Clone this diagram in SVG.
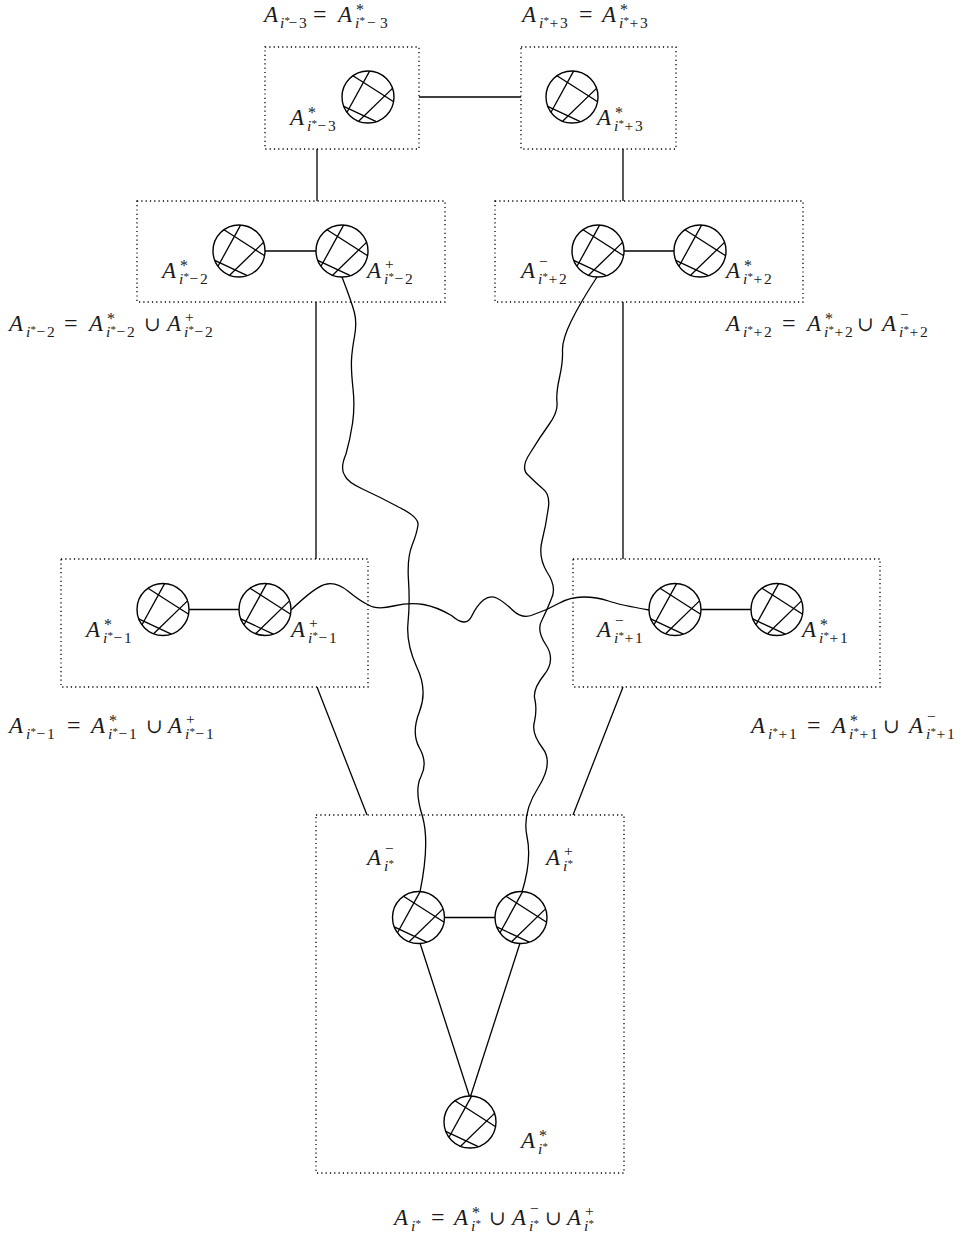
<svg xmlns="http://www.w3.org/2000/svg" xmlns:xlink="http://www.w3.org/1999/xlink" width="964" height="1237" viewBox="0 0 964 1237">
<style>
.box{fill:none;stroke:#000;stroke-width:1.3;stroke-dasharray:1.2 3.1}
.e{fill:none;stroke:#000;stroke-width:1.3}
.w{fill:none;stroke:#000;stroke-width:1.3;stroke-linejoin:round}
text,tspan{font-family:"Liberation Serif","DejaVu Serif",serif}
text{fill:#1a1a1a}
.A{font-style:italic;font-size:23px}
.op{font-size:24px}
.cu{font-size:20px}
.sb{font-size:15.5px}
.si{font-style:italic;font-size:15.5px}
.st{font-size:16px}
.ss{font-size:11px}
</style>
<defs>
<g id="nd">
<circle r="26" fill="#fff" stroke="#000" stroke-width="1.4"/>
<g stroke="#000" stroke-width="1.3">
<line x1="-15" y1="-21.3" x2="25.3" y2="4.5"/>
<line x1="1.6" y1="-25.9" x2="-21" y2="15.3"/>
<line x1="24.5" y1="-8.6" x2="-9.4" y2="24.2"/>
<line x1="-24.3" y1="9.4" x2="8.3" y2="24.6"/>
</g>
</g>
</defs>
<rect width="964" height="1237" fill="#fff"/>

<g id="boxes">
<rect id="box-m3" class="box" x="265" y="47" width="154" height="102"/>
<rect id="box-p3" class="box" x="521" y="47" width="155" height="102"/>
<rect id="box-m2" class="box" x="137" y="201" width="308" height="101"/>
<rect id="box-p2" class="box" x="495" y="201" width="308" height="101"/>
<rect id="box-m1" class="box" x="61" y="559" width="307" height="128"/>
<rect id="box-p1" class="box" x="573" y="559" width="307" height="128"/>
<rect id="box-0" class="box" x="316" y="815" width="308" height="358"/>
</g>

<g id="connectors">
<line class="e" x1="419" y1="97" x2="521" y2="97"/>
<line class="e" x1="317" y1="149" x2="317" y2="201"/>
<line class="e" x1="623" y1="149" x2="623" y2="201"/>
<line class="e" x1="316" y1="302" x2="316" y2="559"/>
<line class="e" x1="623" y1="302" x2="623" y2="559"/>
<line class="e" x1="317" y1="687" x2="367" y2="815"/>
<line class="e" x1="623" y1="687" x2="573" y2="815"/>
<line class="e" x1="239" y1="251" x2="342" y2="251"/>
<line class="e" x1="598" y1="251" x2="700" y2="251"/>
<line class="e" x1="163" y1="609.5" x2="265" y2="609.5"/>
<line class="e" x1="675" y1="609.5" x2="777" y2="609.5"/>
<line class="e" x1="418.5" y1="917.5" x2="521" y2="917.5"/>
<line class="e" x1="419" y1="940" x2="470" y2="1098"/>
<line class="e" x1="521" y1="940" x2="470" y2="1098"/>
<path class="w" d="M342,277 Q352,303 354.5,313 Q357,323 354.5,336.5 Q352,350 351.5,360 Q351,370 353,388.5 Q355,407 352.5,423.5 Q350,440 346,454 Q340,468 344.5,475 Q347,482 363.5,489.5 Q380,497 398.5,507 Q419,517 418,525 Q417,533 412,545.5 Q407,558 408.5,580.5 Q410,603 408,623 Q406,643 416.5,666.5 Q428,690 419.5,711.5 Q411,733 419.5,748 Q428,763 421,776.5 Q414,790 422.5,816.5 Q430,843 420,892"/>
<path class="w" d="M597,277 Q580,303 571,321.5 Q562,340 562.5,351 Q563,362 559.5,377.5 Q556,393 557,402.5 Q558,412 549,424.5 Q540,437 530.5,452.5 Q520,468 528,475 Q535,482 542.5,488.5 Q551,495 548,510 Q546,525 542,541 Q538,557 547,572 Q557,587 551.5,598.5 Q547,610 542,620 Q536,630 546,645 Q556,660 544,675 Q532,690 535,700 Q537,710 534.5,721.5 Q531,733 542.5,748 Q554,763 538,788 Q522,813 527,836.5 Q532,860 522,892"/>
<path class="w" d="M291,610 Q317,585 327,584 Q337,582 348.5,591.5 Q360,601 368.5,605 Q377,610 393.5,606 Q410,602 423.5,604.5 Q437,607 451.5,615.5 Q466,628 471.5,616.5 Q477,605 483.5,600 Q490,595 496.5,598 Q503,601 513,610.5 Q523,620 535,614 Q547,610 558.5,603.5 Q570,597 583.5,597 Q597,597 608.5,601 Q620,605 649,610"/>
</g>

<g id="nodes">
<g id="n-m3"><use href="#nd" xlink:href="#nd" transform="translate(368,97)"/></g>
<g id="n-p3"><use href="#nd" xlink:href="#nd" transform="translate(572,97)"/></g>
<g id="n-m2s"><use href="#nd" xlink:href="#nd" transform="translate(239,251)"/></g>
<g id="n-m2p"><use href="#nd" xlink:href="#nd" transform="translate(342,251)"/></g>
<g id="n-p2m"><use href="#nd" xlink:href="#nd" transform="translate(598,251)"/></g>
<g id="n-p2s"><use href="#nd" xlink:href="#nd" transform="translate(700,251)"/></g>
<g id="n-m1s"><use href="#nd" xlink:href="#nd" transform="translate(163,609.5)"/></g>
<g id="n-m1p"><use href="#nd" xlink:href="#nd" transform="translate(265,609.5)"/></g>
<g id="n-p1m"><use href="#nd" xlink:href="#nd" transform="translate(675,609.5)"/></g>
<g id="n-p1s"><use href="#nd" xlink:href="#nd" transform="translate(777,609.5)"/></g>
<g id="n-0m"><use href="#nd" xlink:href="#nd" transform="translate(418.5,917.5)"/></g>
<g id="n-0p"><use href="#nd" xlink:href="#nd" transform="translate(521,917.5)"/></g>
<g id="n-0s"><use href="#nd" xlink:href="#nd" transform="translate(470,1122)"/></g>
</g>

<g id="labels" font-family="Liberation Serif, DejaVu Serif, serif">
<text><tspan class="A" x="264" y="22">A</tspan><tspan class="si" x="280" y="28">i</tspan><tspan class="ss" x="284.5" y="24">*</tspan><tspan class="sb" x="288.5" y="28">−</tspan><tspan class="sb" x="299" y="28">3</tspan><tspan class="op" x="313" y="22">=</tspan><tspan class="A" x="338" y="22">A</tspan><tspan class="st" x="356" y="15">*</tspan><tspan class="si" x="355" y="28">i</tspan><tspan class="ss" x="359.5" y="24">*</tspan><tspan class="sb" x="367" y="28">−</tspan><tspan class="sb" x="380" y="28">3</tspan></text>

<text><tspan class="A" x="522" y="22">A</tspan><tspan class="si" x="539" y="28">i</tspan><tspan class="ss" x="543.5" y="24">*</tspan><tspan class="sb" x="549.5" y="28">+</tspan><tspan class="sb" x="560" y="28">3</tspan><tspan class="op" x="579" y="22">=</tspan><tspan class="A" x="602" y="22">A</tspan><tspan class="st" x="620" y="15">*</tspan><tspan class="si" x="619" y="28">i</tspan><tspan class="ss" x="623.5" y="24">*</tspan><tspan class="sb" x="629.5" y="28">+</tspan><tspan class="sb" x="640" y="28">3</tspan></text>

<text><tspan class="A" x="290" y="125">A</tspan><tspan class="st" x="308" y="118">*</tspan><tspan class="si" x="307" y="131">i</tspan><tspan class="ss" x="311.5" y="127">*</tspan><tspan class="sb" x="317.5" y="131">−</tspan><tspan class="sb" x="328" y="131">3</tspan></text>
<text><tspan class="A" x="597" y="125">A</tspan><tspan class="st" x="615" y="118">*</tspan><tspan class="si" x="614" y="131">i</tspan><tspan class="ss" x="618.5" y="127">*</tspan><tspan class="sb" x="624.5" y="131">+</tspan><tspan class="sb" x="635" y="131">3</tspan></text>

<text><tspan class="A" x="162" y="278">A</tspan><tspan class="st" x="180" y="271">*</tspan><tspan class="si" x="179" y="284">i</tspan><tspan class="ss" x="183.5" y="280">*</tspan><tspan class="sb" x="189.5" y="284">−</tspan><tspan class="sb" x="200" y="284">2</tspan></text>
<text><tspan class="A" x="367" y="278">A</tspan><tspan class="sb" x="385" y="269">+</tspan><tspan class="si" x="384" y="284">i</tspan><tspan class="ss" x="388.5" y="280">*</tspan><tspan class="sb" x="394.5" y="284">−</tspan><tspan class="sb" x="405" y="284">2</tspan></text>
<text><tspan class="A" x="521" y="278">A</tspan><tspan class="sb" x="539" y="267">−</tspan><tspan class="si" x="538" y="284">i</tspan><tspan class="ss" x="542.5" y="280">*</tspan><tspan class="sb" x="548.5" y="284">+</tspan><tspan class="sb" x="559" y="284">2</tspan></text>
<text><tspan class="A" x="726" y="278">A</tspan><tspan class="st" x="744" y="271">*</tspan><tspan class="si" x="743" y="284">i</tspan><tspan class="ss" x="747.5" y="280">*</tspan><tspan class="sb" x="753.5" y="284">+</tspan><tspan class="sb" x="764" y="284">2</tspan></text>

<text><tspan class="A" x="9" y="331">A</tspan><tspan class="si" x="26" y="337">i</tspan><tspan class="ss" x="30.5" y="333">*</tspan><tspan class="sb" x="36.5" y="337">−</tspan><tspan class="sb" x="47" y="337">2</tspan><tspan class="op" x="64" y="331">=</tspan><tspan class="A" x="89" y="331">A</tspan><tspan class="st" x="107" y="324">*</tspan><tspan class="si" x="106" y="337">i</tspan><tspan class="ss" x="110.5" y="333">*</tspan><tspan class="sb" x="116.5" y="337">−</tspan><tspan class="sb" x="127" y="337">2</tspan><tspan class="cu" x="144" y="331">∪</tspan><tspan class="A" x="167" y="331">A</tspan><tspan class="sb" x="185" y="322">+</tspan><tspan class="si" x="184" y="337">i</tspan><tspan class="ss" x="188.5" y="333">*</tspan><tspan class="sb" x="194.5" y="337">−</tspan><tspan class="sb" x="205" y="337">2</tspan></text>

<text><tspan class="A" x="726" y="331">A</tspan><tspan class="si" x="743" y="337">i</tspan><tspan class="ss" x="747.5" y="333">*</tspan><tspan class="sb" x="753.5" y="337">+</tspan><tspan class="sb" x="764" y="337">2</tspan><tspan class="op" x="782" y="331">=</tspan><tspan class="A" x="807" y="331">A</tspan><tspan class="st" x="825" y="324">*</tspan><tspan class="si" x="824" y="337">i</tspan><tspan class="ss" x="828.5" y="333">*</tspan><tspan class="sb" x="834.5" y="337">+</tspan><tspan class="sb" x="845" y="337">2</tspan><tspan class="cu" x="857" y="331">∪</tspan><tspan class="A" x="882" y="331">A</tspan><tspan class="sb" x="900" y="320">−</tspan><tspan class="si" x="899" y="337">i</tspan><tspan class="ss" x="903.5" y="333">*</tspan><tspan class="sb" x="909.5" y="337">+</tspan><tspan class="sb" x="920" y="337">2</tspan></text>

<text><tspan class="A" x="86" y="637">A</tspan><tspan class="st" x="104" y="630">*</tspan><tspan class="si" x="103" y="643">i</tspan><tspan class="ss" x="107.5" y="639">*</tspan><tspan class="sb" x="113.5" y="643">−</tspan><tspan class="sb" x="124" y="643">1</tspan></text>
<text><tspan class="A" x="291" y="637">A</tspan><tspan class="sb" x="309" y="628">+</tspan><tspan class="si" x="308" y="643">i</tspan><tspan class="ss" x="312.5" y="639">*</tspan><tspan class="sb" x="318.5" y="643">−</tspan><tspan class="sb" x="329" y="643">1</tspan></text>
<text><tspan class="A" x="597" y="637">A</tspan><tspan class="sb" x="615" y="626">−</tspan><tspan class="si" x="614" y="643">i</tspan><tspan class="ss" x="618.5" y="639">*</tspan><tspan class="sb" x="624.5" y="643">+</tspan><tspan class="sb" x="635" y="643">1</tspan></text>
<text><tspan class="A" x="802" y="637">A</tspan><tspan class="st" x="820" y="630">*</tspan><tspan class="si" x="819" y="643">i</tspan><tspan class="ss" x="823.5" y="639">*</tspan><tspan class="sb" x="829.5" y="643">+</tspan><tspan class="sb" x="840" y="643">1</tspan></text>

<text><tspan class="A" x="9" y="733">A</tspan><tspan class="si" x="26" y="739">i</tspan><tspan class="ss" x="30.5" y="735">*</tspan><tspan class="sb" x="36.5" y="739">−</tspan><tspan class="sb" x="47" y="739">1</tspan><tspan class="op" x="67" y="733">=</tspan><tspan class="A" x="91" y="733">A</tspan><tspan class="st" x="109" y="726">*</tspan><tspan class="si" x="108" y="739">i</tspan><tspan class="ss" x="112.5" y="735">*</tspan><tspan class="sb" x="118.5" y="739">−</tspan><tspan class="sb" x="129" y="739">1</tspan><tspan class="cu" x="146" y="733">∪</tspan><tspan class="A" x="168" y="733">A</tspan><tspan class="sb" x="186" y="724">+</tspan><tspan class="si" x="185" y="739">i</tspan><tspan class="ss" x="189.5" y="735">*</tspan><tspan class="sb" x="195.5" y="739">−</tspan><tspan class="sb" x="206" y="739">1</tspan></text>

<text><tspan class="A" x="751" y="733">A</tspan><tspan class="si" x="768" y="739">i</tspan><tspan class="ss" x="772.5" y="735">*</tspan><tspan class="sb" x="778.5" y="739">+</tspan><tspan class="sb" x="789" y="739">1</tspan><tspan class="op" x="807" y="733">=</tspan><tspan class="A" x="832" y="733">A</tspan><tspan class="st" x="850" y="726">*</tspan><tspan class="si" x="849" y="739">i</tspan><tspan class="ss" x="853.5" y="735">*</tspan><tspan class="sb" x="859.5" y="739">+</tspan><tspan class="sb" x="870" y="739">1</tspan><tspan class="cu" x="883" y="733">∪</tspan><tspan class="A" x="909" y="733">A</tspan><tspan class="sb" x="927" y="722">−</tspan><tspan class="si" x="926" y="739">i</tspan><tspan class="ss" x="930.5" y="735">*</tspan><tspan class="sb" x="936.5" y="739">+</tspan><tspan class="sb" x="947" y="739">1</tspan></text>

<text><tspan class="A" x="367" y="865">A</tspan><tspan class="sb" x="385" y="854">−</tspan><tspan class="si" x="384" y="871">i</tspan><tspan class="ss" x="388.5" y="867">*</tspan></text>
<text><tspan class="A" x="546" y="865">A</tspan><tspan class="sb" x="564" y="856">+</tspan><tspan class="si" x="563" y="871">i</tspan><tspan class="ss" x="567.5" y="867">*</tspan></text>
<text><tspan class="A" x="521" y="1148">A</tspan><tspan class="st" x="539" y="1141">*</tspan><tspan class="si" x="538" y="1154">i</tspan><tspan class="ss" x="542.5" y="1150">*</tspan></text>

<text><tspan class="A" x="394" y="1225">A</tspan><tspan class="si" x="411" y="1231">i</tspan><tspan class="ss" x="415.5" y="1227">*</tspan><tspan class="op" x="431" y="1225">=</tspan><tspan class="A" x="454" y="1225">A</tspan><tspan class="st" x="472" y="1218">*</tspan><tspan class="si" x="471" y="1231">i</tspan><tspan class="ss" x="475.5" y="1227">*</tspan><tspan class="cu" x="489" y="1225">∪</tspan><tspan class="A" x="512" y="1225">A</tspan><tspan class="sb" x="530" y="1214">−</tspan><tspan class="si" x="529" y="1231">i</tspan><tspan class="ss" x="533.5" y="1227">*</tspan><tspan class="cu" x="545" y="1225">∪</tspan><tspan class="A" x="567" y="1225">A</tspan><tspan class="sb" x="585" y="1216">+</tspan><tspan class="si" x="584" y="1231">i</tspan><tspan class="ss" x="588.5" y="1227">*</tspan></text>
</g>
</svg>
